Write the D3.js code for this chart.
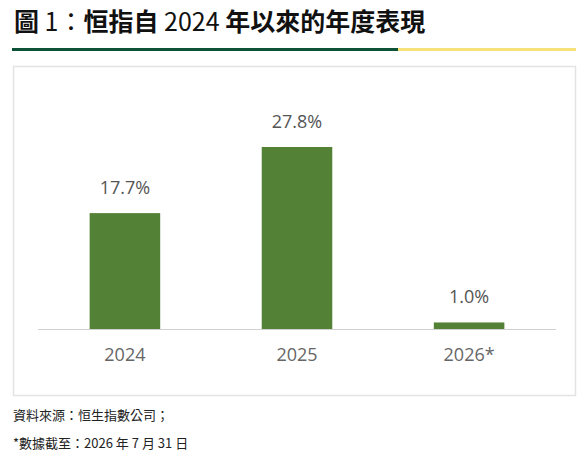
<!DOCTYPE html>
<html><head><meta charset="utf-8">
<script src="https://cdn.jsdelivr.net/npm/d3@7"></script>
<style>body{margin:0;background:#fff}</style>
</head><body>
<script>
const categories = ["2024", "2025", "2026*"];
const values = [17.7, 27.8, 1.0];
const valueLabels = ["17.7%", "27.8%", "1.0%"];
const notes = ["資料來源：恒生指數公司；", "*數據截至：2026 年 7 月 31 日"];

const svg = d3.select("body").append("svg").attr("width", 588).attr("height", 465);
const cjk = "'Noto Sans CJK TC','Noto Sans',sans-serif";

const title = svg.append("text").attr("x", 14).attr("y", 31)
  .style("font-family", cjk).style("font-size", "25px").attr("fill", "#111");
title.append("tspan").attr("font-weight", "bold").text("圖");
title.append("tspan").attr("font-weight", "normal").text(" 1：");
title.append("tspan").attr("font-weight", "bold").text("恒指自");
title.append("tspan").attr("font-weight", "normal").text(" 2024 ");
title.append("tspan").attr("font-weight", "bold").text("年以來的年度表現");

svg.append("rect").attr("x", 12).attr("y", 48).attr("width", 386).attr("height", 3).attr("fill", "#0b5236");
svg.append("rect").attr("x", 398).attr("y", 48).attr("width", 178).attr("height", 3).attr("fill", "#f7e27a");

svg.append("rect").attr("x", 13.5).attr("y", 66.5).attr("width", 562).attr("height", 329)
  .attr("fill", "none").attr("stroke", "#e3e3e3").attr("stroke-width", 1.5);

const x = d3.scaleBand().domain(categories).range([38, 556]).paddingInner(0.59).paddingOuter(0.3);
const y = d3.scaleLinear().domain([0, 27.8]).range([329, 147]);

svg.selectAll("rect.bar").data(values).enter().append("rect").attr("class", "bar")
  .attr("x", (d, i) => x(categories[i])).attr("width", x.bandwidth())
  .attr("y", d => y(d)).attr("height", d => y(0) - y(d)).attr("fill", "#538135");

svg.selectAll("text.val").data(values).enter().append("text").attr("class", "val")
  .attr("x", (d, i) => x(categories[i]) + x.bandwidth() / 2).attr("y", d => y(d) - 19)
  .attr("text-anchor", "middle").style("font-family", "'Open Sans',sans-serif")
  .style("font-size", "18px").attr("fill", "#555").text((d, i) => valueLabels[i]);

svg.append("line").attr("x1", 38).attr("x2", 556).attr("y1", 329.5).attr("y2", 329.5)
  .attr("stroke", "#d0d0d0");

const axis = svg.append("g").attr("transform", "translate(0,329)")
  .call(d3.axisBottom(x).tickSize(0).tickPadding(19));
axis.select(".domain").remove();
axis.selectAll("text").style("font-family", "'Open Sans',sans-serif").style("font-size", "18px").attr("fill", "#666");

svg.selectAll("text.note").data(notes).enter().append("text").attr("class", "note")
  .attr("x", 13).attr("y", (d, i) => 420 + i * 28)
  .style("font-family", cjk).style("font-size", "13px").attr("fill", "#222").text(d => d);
</script>
</body></html>
